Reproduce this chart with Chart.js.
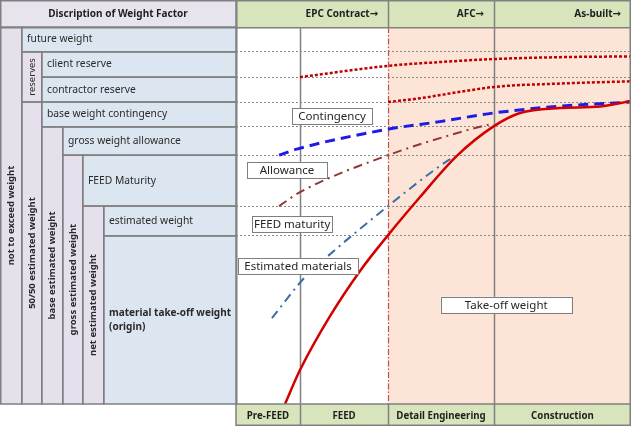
<!DOCTYPE html>
<html>
<head>
<meta charset="utf-8">
<script src="https://cdn.jsdelivr.net/npm/chart.js@4.4.1/dist/chart.umd.min.js"></script>
<style>
  body { margin: 0; background: #fff; }
  #wrap { width: 631px; height: 426px; }
</style>
</head>
<body>
<div id="wrap"><canvas id="chart" width="631" height="426"></canvas></div>
<script>
/*-------- DATA (x = project progress 0..100, y = % of not-to-exceed weight) -------- */
const phases = ["Pre-FEED", "FEED", "Detail Engineering", "Construction"];
const phaseEdges = [0, 16.2, 38.5, 65.3, 100];
const milestones = ["EPC Contract→", "AFC→", "As-built→"];
const milestoneX = [38.5, 65.3, 100];

// row boundaries of the weight factor table, top to bottom
const rowEdges = [100, 93.4, 86.7, 80.1, 73.5, 66.0, 52.5, 44.6, 0];

const clientX = [16.2, 38.5, 51.6, 65.3, 82.0, 100];
const clientY = [86.7, 89.7, 90.7, 91.5, 92.0, 92.2];

const contractorX = [38.5, 46.6, 56.7, 65.3, 82.0, 100];
const contractorY = [80.1, 81.1, 82.8, 84.1, 85.0, 85.6];

const contingencyX = [10.9, 15.4, 38.5, 51.6, 65.3, 82.0, 100];
const contingencyY = [66.0, 67.6, 72.9, 74.9, 77.2, 79.0, 80.1];

const allowanceX = [10.9, 16.2, 38.5, 56.7, 64.3];
const allowanceY = [52.5, 56.2, 66.0, 72.1, 74.2];

const estimatedX = [9.1, 17.5, 23.0, 38.5, 50.9, 55.4];
const estimatedY = [22.8, 33.7, 39.0, 52.5, 62.6, 65.8];

const takeoffX = [12.4, 16.2, 23.8, 31.4, 38.5, 46.6, 55.9, 65.3, 71.9, 82.0, 92.2, 100];
const takeoffY = [0, 9.0, 23.3, 35.3, 44.8, 54.9, 65.8, 73.7, 77.2, 78.5, 78.9, 80.4];

const noteText = ["Contingency", "Allowance", "FEED maturity", "Estimated materials", "Take-off weight"];
const noteX = [24.3, 12.9, 14.2, 15.7, 68.4];
const noteY = [76.4, 62.1, 47.7, 36.6, 26.3];

// left table cells: [text, firstCol, lastCol, firstRow, lastRow, vertical, bold]
const factorCells = [
  ["not to exceed weight", 0, 1, 0, 8, true, true],
  ["future weight", 1, 6, 0, 1, false, false],
  ["reserves", 1, 2, 1, 3, true, false],
  ["client reserve", 2, 6, 1, 2, false, false],
  ["contractor reserve", 2, 6, 2, 3, false, false],
  ["50/50 estimated weight", 1, 2, 3, 8, true, true],
  ["base weight contingency", 2, 6, 3, 4, false, false],
  ["base estimated weight", 2, 3, 4, 8, true, true],
  ["gross weight allowance", 3, 6, 4, 5, false, false],
  ["gross estimated weight", 3, 4, 5, 8, true, true],
  ["FEED Maturity", 4, 6, 5, 6, false, false],
  ["net estimated weight", 4, 5, 6, 8, true, true],
  ["estimated weight", 5, 6, 6, 7, false, false],
  ["material take-off weight|(origin)", 5, 6, 7, 8, false, true]
];

const pts = (xs, ys) => xs.map((v, i) => ({ x: v, y: ys[i] }));

/*-------- LAYOUT / STYLE -------- */
const FONT = "'Noto Sans', 'DejaVu Sans', sans-serif";
const leftCols = [0, 21, 41, 62, 82, 103]; // px, last column runs to the plot
const noteW = [80, 80, 80, 120, 131];
const gridGray = "#808080";

const tablePlugin = {
  id: "weightTable",
  beforeDraw(chart) {
    const { ctx, chartArea: a, scales: { x, y } } = chart;
    const W = chart.width, H = chart.height;
    const colPx = (i) => (i < leftCols.length ? leftCols[i] : a.left);
    ctx.save();
    ctx.fillStyle = "#fff";
    ctx.fillRect(0, 0, W, H);

    // left header
    ctx.fillStyle = "#e7e4ed";
    ctx.fillRect(0, 0, a.left, a.top);
    // left cells
    factorCells.forEach((c) => {
      const x0 = colPx(c[1]), x1 = colPx(c[2]);
      const y0 = y.getPixelForValue(rowEdges[c[3]]), y1 = y.getPixelForValue(rowEdges[c[4]]);
      ctx.fillStyle = c[5] ? "#e5e0ec" : "#dce6f1";
      ctx.fillRect(x0, y0, x1 - x0, y1 - y0);
    });

    // green header / footer on the right
    ctx.fillStyle = "#d8e4bc";
    ctx.fillRect(a.left, 0, a.right - a.left, a.top);
    ctx.fillRect(a.left, a.bottom, a.right - a.left, H - a.bottom);

    // peach area after EPC contract
    const px = x.getPixelForValue(phaseEdges[2]);
    ctx.fillStyle = "#fce5d7";
    ctx.fillRect(px, a.top, a.right - px, a.bottom - a.top);
    ctx.restore();
  },
  beforeDatasetsDraw(chart) {
    const { ctx, chartArea: a, scales: { x } } = chart;
    ctx.save();
    phaseEdges.slice(1, 4).forEach((v, i) => {
      const px = Math.round(x.getPixelForValue(v)) + 0.5;
      ctx.beginPath();
      if (i === 1) {
        ctx.strokeStyle = "#c0504d";
        ctx.lineWidth = 1.2;
        ctx.setLineDash([6, 2, 1.5, 2]);
      } else {
        ctx.strokeStyle = gridGray;
        ctx.lineWidth = 1.5;
        ctx.setLineDash([]);
      }
      ctx.moveTo(px, a.top);
      ctx.lineTo(px, a.bottom);
      ctx.stroke();
    });
    ctx.restore();
  },
  afterDatasetsDraw(chart) {
    const { ctx, chartArea: a, scales: { x, y } } = chart;
    const H = chart.height;
    ctx.save();
    // callout boxes
    ctx.font = "11.5px " + FONT;
    ctx.textAlign = "center";
    ctx.textBaseline = "middle";
    noteText.forEach((t, i) => {
      const cx = x.getPixelForValue(noteX[i]), cy = y.getPixelForValue(noteY[i]);
      const w = noteW[i], h = 16;
      ctx.fillStyle = "#fff";
      ctx.fillRect(cx - w / 2, cy - h / 2, w, h);
      ctx.strokeStyle = "#7f7f7f";
      ctx.lineWidth = 1;
      ctx.strokeRect(Math.round(cx - w / 2) + 0.5, Math.round(cy - h / 2) + 0.5, w, h);
      ctx.fillStyle = "#262626";
      ctx.fillText(t, cx, cy + 0.5);
    });

    // cell borders of the left table
    const colPx = (i) => (i < leftCols.length ? leftCols[i] : a.left);
    ctx.strokeStyle = gridGray;
    ctx.lineWidth = 1.5;
    factorCells.forEach((c) => {
      const x0 = colPx(c[1]), x1 = colPx(c[2]);
      const y0 = y.getPixelForValue(rowEdges[c[3]]), y1 = y.getPixelForValue(rowEdges[c[4]]);
      ctx.strokeRect(x0 + 0.75, y0, x1 - x0, y1 - y0);
    });
    ctx.strokeRect(0.75, 0.75, a.left, a.top);

    // frame of the plot, header and footer
    ctx.strokeRect(a.left, 0.75, a.right - a.left - 0.75, a.top);
    ctx.strokeRect(a.left, a.bottom, a.right - a.left - 0.75, H - a.bottom - 0.75);
    ctx.beginPath();
    ctx.moveTo(a.left, a.top); ctx.lineTo(a.left, a.bottom);
    ctx.moveTo(a.right - 0.75, a.top); ctx.lineTo(a.right - 0.75, a.bottom);
    milestoneX.slice(0, 2).forEach((v) => {
      const px = Math.round(x.getPixelForValue(v)) + 0.5;
      ctx.moveTo(px, 0); ctx.lineTo(px, a.top);
    });
    phaseEdges.slice(1, 4).forEach((v) => {
      const px = Math.round(x.getPixelForValue(v)) + 0.5;
      ctx.moveTo(px, a.bottom); ctx.lineTo(px, H);
    });
    ctx.stroke();

    // texts
    ctx.fillStyle = "#1f1f1f";
    ctx.textBaseline = "middle";
    ctx.font = "bold 10px " + FONT;
    ctx.textAlign = "center";
    ctx.fillText("Discription of Weight Factor", a.left / 2, a.top / 2 + 1);

    ctx.textAlign = "right";
    milestones.forEach((m, i) => {
      ctx.fillText(m, x.getPixelForValue(milestoneX[i]) - 10, a.top / 2 + 1);
    });

    ctx.textAlign = "center";
    ctx.font = "bold 9.7px " + FONT;
    phases.forEach((p, i) => {
      const cx = (x.getPixelForValue(phaseEdges[i]) + x.getPixelForValue(phaseEdges[i + 1])) / 2;
      ctx.fillText(p, cx, (a.bottom + H) / 2 + 1);
    });

    factorCells.forEach((c) => {
      const x0 = colPx(c[1]), x1 = colPx(c[2]);
      const y0 = y.getPixelForValue(rowEdges[c[3]]), y1 = y.getPixelForValue(rowEdges[c[4]]);
      ctx.font = (c[6] ? "bold " : "") + (c[5] ? "9.5px " : (c[6] ? "10px " : "10.3px ")) + FONT;
      ctx.fillStyle = "#2a2a2a";
      if (c[5]) {
        ctx.save();
        ctx.translate((x0 + x1) / 2 + 1, (y0 + y1) / 2);
        ctx.rotate(-Math.PI / 2);
        ctx.textAlign = "center";
        ctx.fillText(c[0], 0, 0);
        ctx.restore();
      } else {
        const lines = c[0].split("|");
        ctx.textAlign = "left";
        lines.forEach((l, k) => {
          ctx.fillText(l, x0 + 6, (y0 + y1) / 2 + (k - (lines.length - 1) / 2) * 14);
        });
      }
    });
    ctx.restore();
  }
};

new Chart(document.getElementById("chart"), {
  type: "line",
  data: {
    datasets: [
      {
        label: "Take-off weight",
        data: pts(takeoffX, takeoffY),
        borderColor: "#d40000",
        borderWidth: 2.5
      },
      {
        label: "Client reserve",
        data: pts(clientX, clientY),
        borderColor: "#c00000",
        borderWidth: 2.5,
        borderDash: [3, 2]
      },
      {
        label: "Contractor reserve",
        data: pts(contractorX, contractorY),
        borderColor: "#c00000",
        borderWidth: 2.5,
        borderDash: [3, 2]
      },
      {
        label: "Contingency",
        data: pts(contingencyX, contingencyY),
        borderColor: "#1c1ce6",
        borderWidth: 3,
        borderDash: [10, 6]
      },
      {
        label: "Allowance",
        data: pts(allowanceX, allowanceY),
        borderColor: "#953735",
        borderWidth: 2,
        borderDash: [9, 5, 2, 5]
      },
      {
        label: "Estimated materials",
        data: pts(estimatedX, estimatedY),
        borderColor: "#3b6ea8",
        borderWidth: 2,
        borderDash: [9, 5, 2, 5]
      }
    ]
  },
  options: {
    responsive: false,
    animation: false,
    devicePixelRatio: 1,
    layout: { padding: { left: 236, top: 27, bottom: 22, right: 0 } },
    elements: {
      point: { radius: 0 },
      line: { cubicInterpolationMode: "monotone", fill: false }
    },
    plugins: {
      legend: { display: false },
      tooltip: { enabled: false }
    },
    scales: {
      x: { type: "linear", min: 0, max: 100, display: false },
      y: {
        type: "linear",
        min: 0,
        max: 100,
        afterBuildTicks: (scale) => {
          scale.ticks = rowEdges.map((v) => ({ value: v }));
        },
        ticks: { display: false },
        grid: {
          drawTicks: false,
          lineWidth: 1,
          color: (c) => (c.tick && (c.tick.value === 0 || c.tick.value === 100) ? "rgba(0,0,0,0)" : "#8a8a8a")
        },
        border: { display: false, dash: [2, 2] }
      }
    }
  },
  plugins: [tablePlugin]
});
</script>
</body>
</html>
